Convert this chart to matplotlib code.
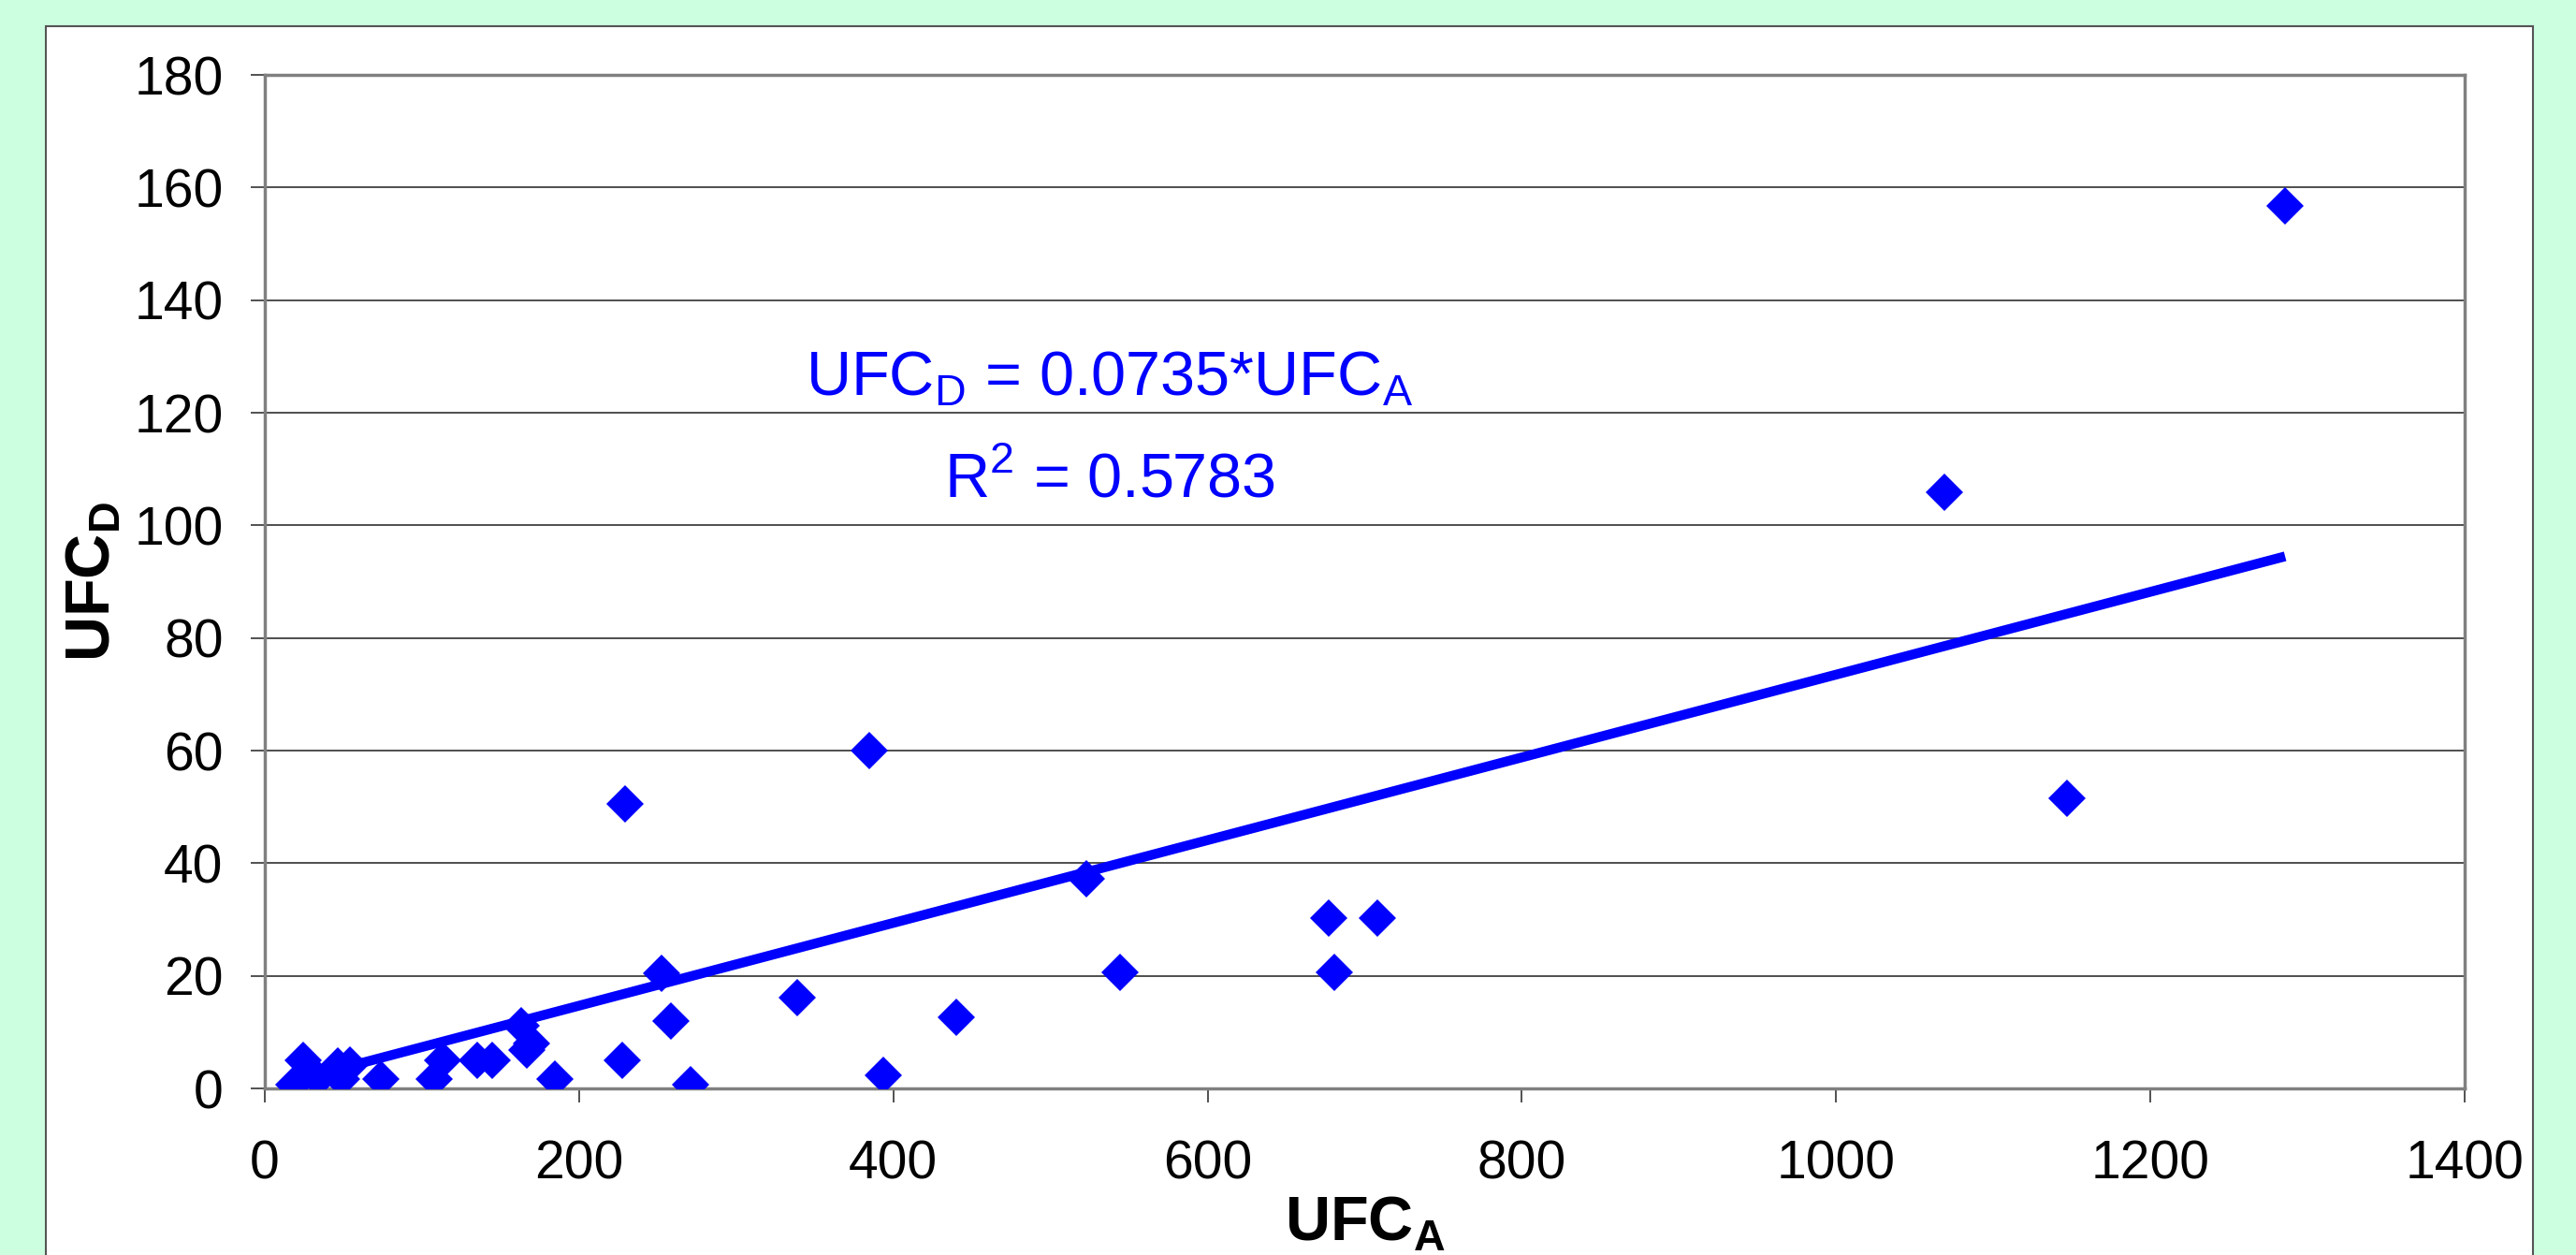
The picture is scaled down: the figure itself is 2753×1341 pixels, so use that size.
import numpy as np
import matplotlib
matplotlib.use('Agg')
import matplotlib.pyplot as plt
from matplotlib.patches import Rectangle

plt.rcParams['font.family'] = ['Liberation Sans', 'DejaVu Sans']
plt.rcParams['mathtext.fontset'] = 'custom'
plt.rcParams['mathtext.rm'] = 'Liberation Sans'
plt.rcParams['mathtext.bf'] = 'Liberation Sans:bold'

# valori
ufc_a = [18.6, 24.5, 34, 46.4, 48.7, 54.4, 73.6, 107.6, 113, 135.4, 144.5,
         163, 166.5, 170, 184.6, 227.6, 229.3, 252.5, 258.2, 270.7, 338.6,
         384.7, 393.7, 440.2, 523, 544.5, 677, 680.5, 708, 1068.9, 1147, 1285.7]
ufc_d = [0.7, 5.0, 1.6, 4.0, 1.6, 4.2, 1.6, 1.6, 5.0, 5.0, 5.0,
         11.1, 6.9, 8.0, 1.6, 5.0, 50.6, 20.5, 11.9, 0.7, 16.2,
         60.0, 2.4, 12.7, 37.2, 20.7, 30.2, 20.7, 30.2, 105.9, 51.6, 156.7]
slope = 0.0735
r2 = 0.5783

x_ticks = [0, 200, 400, 600, 800, 1000, 1200, 1400]
y_ticks = [0, 20, 40, 60, 80, 100, 120, 140, 160, 180]

blue = '#0000FF'

fig = plt.figure(figsize=(27.53, 13.41), dpi=100)
fig.patch.set_facecolor('#CCFFE0')
# panoul alb din spate
fig.patches.append(Rectangle((0.0178, -0.05), 0.9655, 1.0291, transform=fig.transFigure,
                             facecolor='white', edgecolor='#555555', linewidth=1.5, zorder=-1))

ax = fig.add_axes([0.1028, 0.1327, 0.854, 0.8076])
ax.set_facecolor('white')

# dreapta de regresie prin origine
line_x = np.array([min(ufc_a), max(ufc_a)])
ax.plot(line_x, slope * line_x, color=blue, linewidth=7.5, zorder=3, solid_capstyle='butt')
ax.plot(ufc_a, ufc_d, linestyle='none', marker='D', markersize=20,
        color=blue, markeredgewidth=0, zorder=4)

ax.set_xlim(0, 1400)
ax.set_ylim(0, 180)
ax.set_xticks(x_ticks)
ax.set_yticks(y_ticks)
ax.yaxis.grid(True, color='#404040', linewidth=1.3)
ax.set_axisbelow(True)

for s in ax.spines.values():
    s.set_color('#808080')
    s.set_linewidth(2.5)

ax.tick_params(axis='both', direction='out', length=11, width=1.2, color='#333333',
               labelsize=41)
ax.tick_params(axis='x', pad=28)
ax.tick_params(axis='y', pad=21)

ax.set_xlabel(r'UFC$_\mathbf{A}$', fontsize=48, fontweight='bold', labelpad=5)
ax.set_ylabel(r'UFC$_\mathbf{D}$', fontsize=48, fontweight='bold', labelpad=8)

ax.text(0.384, 0.6836, r'UFC$_\mathregular{D}$ = ' + str(slope) + r'*UFC$_\mathregular{A}$',
        transform=ax.transAxes, ha='center', va='baseline', fontsize=48, color=blue)
ax.text(0.384, 0.583, r'R$^\mathregular{2}$ = ' + str(r2),
        transform=ax.transAxes, ha='center', va='baseline', fontsize=48, color=blue)

fig.savefig('out.png', dpi=100, facecolor=fig.get_facecolor())
